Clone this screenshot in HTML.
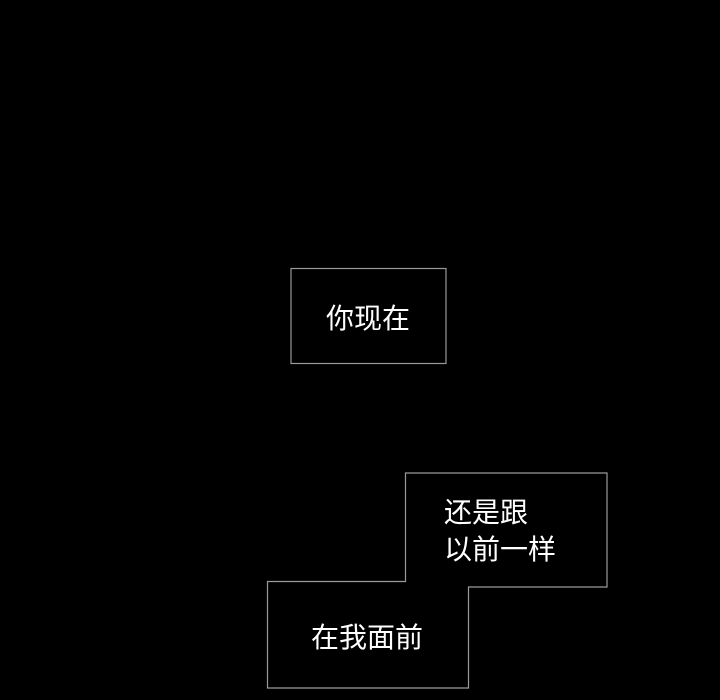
<!DOCTYPE html>
<html><head><meta charset="utf-8"><style>
html,body{margin:0;padding:0;background:#000;width:720px;height:700px;overflow:hidden}
svg{display:block}
text{font-family:"Liberation Sans","Noto Sans CJK SC",sans-serif;fill:#fff;font-size:28px}
</style></head><body>
<svg width="720" height="700" viewBox="0 0 720 700">
<rect x="291" y="268.5" width="155" height="95" fill="none" stroke="#9a9a9a" stroke-width="1.2"/>
<text x="326" y="328">你现在</text>
<polygon points="405.5,473 607,473 607,587 468.5,587 468.5,688 267.5,688 267.5,581.5 405.5,581.5" fill="none" stroke="#9a9a9a" stroke-width="1.2"/>
<text x="444" y="522">还是跟</text>
<text x="444" y="559">以前一样</text>
<text x="311" y="647">在我面前</text>
</svg>
</body></html>
